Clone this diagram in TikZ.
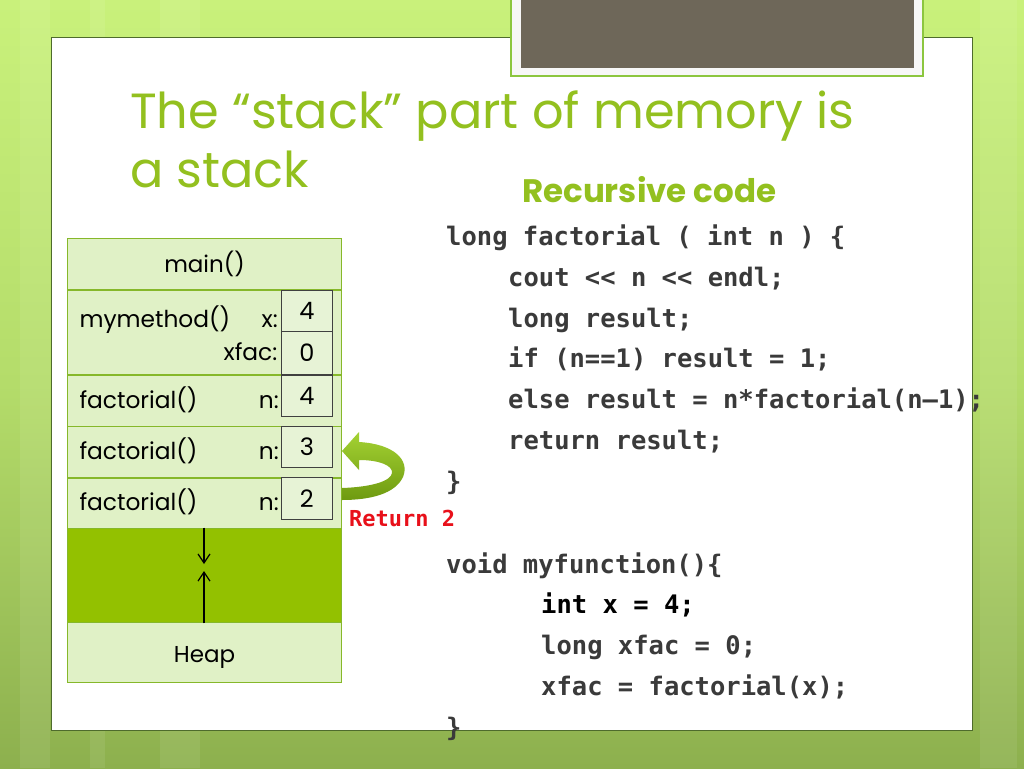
\documentclass[tikz,border=0pt]{standalone}
\usepackage{fontspec}
\setmainfont{Poppins}
\newfontfamily\codefont{DejaVu Sans Mono}
\usetikzlibrary{arrows.meta}
\definecolor{bgtop}{HTML}{C9F17B}
\definecolor{bgmid}{HTML}{B4DC6A}
\definecolor{bgbot}{HTML}{8DB04E}
\definecolor{panelborder}{HTML}{4E6B2C}
\definecolor{grayboxc}{HTML}{6E6759}
\definecolor{frameedge}{HTML}{8CC63F}
\definecolor{titlegreen}{HTML}{93C01F}
\definecolor{stkfill}{HTML}{E0F1C6}
\definecolor{stkedge}{HTML}{86B82A}
\definecolor{gapgreen}{HTML}{93C100}
\definecolor{valfill}{HTML}{E7F3D6}
\definecolor{codegray}{HTML}{3A3A3A}
\definecolor{retred}{HTML}{E8101A}
\definecolor{arrlight}{HTML}{A4D233}
\definecolor{arrdark}{HTML}{6E9A10}
\tikzset{
  frame/.style={rectangle, draw=stkedge, line width=1.4pt, fill=stkfill, inner sep=0,
    minimum width=274pt, font=\fontsize{23}{26}\selectfont},
  valbox/.style={rectangle, draw=black!75, line width=0.9pt, fill=valfill, inner sep=0,
    minimum width=51.7pt, font=\fontsize{24}{26}\selectfont},
  lbl/.style={inner sep=0, font=\fontsize{23.3}{26}\selectfont},
  codeline/.style={anchor=base west, inner sep=0, text=codegray,
    font=\codefont\bfseries\fontsize{25.5}{30}\selectfont},
  titletext/.style={anchor=base west, inner sep=0, text=titlegreen,
    font=\fontsize{49.4}{58}\selectfont},
  growarrow/.style={-{Straight Barb[length=9pt,width=12pt,line width=1.2pt]}, line width=1.2pt, black}
}
\begin{document}
\begin{tikzpicture}[x=1pt,y=-1pt]
\useasboundingbox (0,0) rectangle (1024,768);
% background
\shade[top color=bgtop, bottom color=bgbot, middle color=bgmid] (0,0) rectangle (1024,768);
\foreach \sx/\sw in {20/30, 90/15, 160/40, 980/25, 1005/12}
  \fill[white, opacity=0.08] (\sx,0) rectangle ++(\sw,768);
% panel
\draw[draw=panelborder, line width=1pt, fill=white] (51.5,37.5) rectangle (972.5,730);
% gray box at top
\fill[white!94!gray] (511,0) rectangle (923,76);
\draw[frameedge, line width=1.5pt] (511,0) -- (511,76) -- (923,76) -- (923,0);
\fill[grayboxc] (521,0) rectangle (914,67.5);
% title
\node[titletext] (title1) at (130,128) {The “stack” part of memory is};
\node[titletext] (title2) at (130,187) {a stack};
\node[anchor=base west, inner sep=0, text=titlegreen, font=\bfseries\fontsize{32.5}{36}\selectfont]
  (rechead) at (522,202) {Recursive code};
% stack frames
\node[frame, minimum height=51.5pt] (mainf) at (204.5,264.25) {main()};
\node[frame, minimum height=85pt] (mymf) at (204.5,332.5) {};
\node[frame, minimum height=51.5pt] (f4) at (204.5,400.75) {};
\node[frame, minimum height=51.5pt] (f3) at (204.5,452.25) {};
\node[frame, minimum height=50.3pt] (f2) at (204.5,503.15) {};
\node[frame, fill=gapgreen, minimum height=94.4pt] (gap) at (204.5,575.5) {};
\node[frame, minimum height=60pt, text depth=0pt] (heap) at (204.5,652.7) {\raisebox{-4pt}{Heap}};
% value boxes
\node[valbox, minimum height=41.7pt] (vx) at (306.85,310.85) {4};
\node[valbox, minimum height=42.3pt] (vxfac) at (306.85,352.85) {0};
\node[valbox, minimum height=40.3pt] (vn4) at (306.85,395.85) {4};
\node[valbox, minimum height=41pt] (vn3) at (306.85,447.2) {3};
\node[valbox, minimum height=41.6pt] (vn2) at (306.85,498.5) {2};
% labels
\node[lbl, anchor=base west] (lmym) at (79.3,327) {mymethod()};
\node[lbl, anchor=base east] (lx) at (278,327) {x:};
\node[lbl, anchor=base east] (lxfac) at (277.5,360) {xfac:};
\node[lbl, anchor=base west] (lf4) at (79.3,408) {factorial()};
\node[lbl, anchor=base east] (ln4) at (279,408) {n:};
\node[lbl, anchor=base west] (lf3) at (79.3,459.5) {factorial()};
\node[lbl, anchor=base east] (ln3) at (279,459.5) {n:};
\node[lbl, anchor=base west] (lf2) at (79.3,510.5) {factorial()};
\node[lbl, anchor=base east] (ln2) at (279,510.5) {n:};
% growth arrows
\coordinate (downend) at (204,564);
\coordinate (upend) at (204,571);
\draw[growarrow] (gap.north -| downend) -- (downend);
\draw[growarrow] (gap.south -| upend) -- (upend);
% curved return arrow
\shade[top color=arrlight, bottom color=arrdark]
  (342,451) -- (359,432) -- (359,442)
  .. controls (394,444) and (410,460) .. (403,477)
  .. controls (395,494) and (370,500) .. (342,500)
  -- (342,488)
  .. controls (372,487) and (391,481) .. (392,473)
  .. controls (393,465) and (378,460) .. (359,460)
  -- (359,470) -- cycle;
\node[anchor=base west, inner sep=0, text=retred, font=\codefont\bfseries\fontsize{22}{26}\selectfont]
  (ret) at (349,526) {Return 2};
% code
\node[codeline] (c1) at (446,245) {long factorial ( int n ) \{};
\node[codeline] (c2) at (508,286) {cout <{}< n <{}< endl;};
\node[codeline] (c3) at (508,327) {long result;};
\node[codeline] (c4) at (508,367) {if (n==1) result = 1;};
\node[codeline] (c5) at (508,408) {else result = n*factorial(n–1);};
\node[codeline] (c6) at (508,449) {return result;};
\node[codeline] (c7) at (446,490) {\}};
\node[codeline] (d1) at (446,573) {void myfunction()\{};
\node[codeline, text=black] (d2) at (541,613) {int x = 4;};
\node[codeline] (d3) at (541,654) {long xfac = 0;};
\node[codeline] (d4) at (541,695) {xfac = factorial(x);};
\node[codeline] (d5) at (446,736) {\}};
\end{tikzpicture}
\end{document}
